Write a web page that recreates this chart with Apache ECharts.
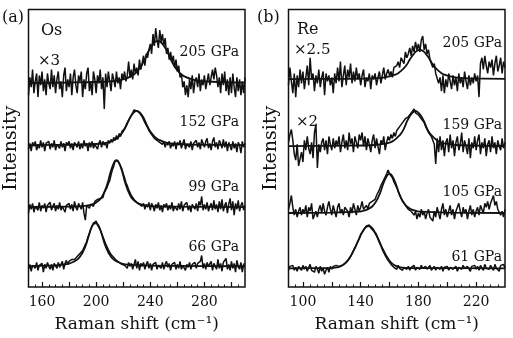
<!DOCTYPE html>
<html>
<head>
<meta charset="utf-8">
<script src="https://cdn.jsdelivr.net/npm/echarts@6/dist/echarts.min.js"></script>
<style>
  html, body { margin: 0; padding: 0; background: #fff; }
  #chart { width: 513px; height: 338px; }
</style>
</head>
<body>
<div id="chart"></div>
<script>
// Raman shift sampling grids (cm^-1)
const shiftOs = [150,151,152,153,154,155,156,157,158,159,160,161,162,163,164,165,166,167,168,169,170,171,172,173,174,175,176,177,178,179,180,181,182,183,184,185,186,187,188,189,190,191,192,193,194,195,196,197,198,199,200,201,202,203,204,205,206,207,208,209,210,211,212,213,214,215,216,217,218,219,220,221,222,223,224,225,226,227,228,229,230,231,232,233,234,235,236,237,238,239,240,241,242,243,244,245,246,247,248,249,250,251,252,253,254,255,256,257,258,259,260,261,262,263,264,265,266,267,268,269,270,271,272,273,274,275,276,277,278,279,280,281,282,283,284,285,286,287,288,289,290,291,292,293,294,295,296,297,298,299,300,301,302,303,304,305,306,307,308,309,310];
const shiftRe = [90,91,92,93,94,95,96,97,98,99,100,101,102,103,104,105,106,107,108,109,110,111,112,113,114,115,116,117,118,119,120,121,122,123,124,125,126,127,128,129,130,131,132,133,134,135,136,137,138,139,140,141,142,143,144,145,146,147,148,149,150,151,152,153,154,155,156,157,158,159,160,161,162,163,164,165,166,167,168,169,170,171,172,173,174,175,176,177,178,179,180,181,182,183,184,185,186,187,188,189,190,191,192,193,194,195,196,197,198,199,200,201,202,203,204,205,206,207,208,209,210,211,212,213,214,215,216,217,218,219,220,221,222,223,224,225,226,227,228,229,230,231,232,233,234,235,236,237,238,239,240];

// Os spectra: intensity above each trace's own baseline (arb. units)
const os205 = [
  -12,6,-4,14,-10,2,10,-14,8,-2,
  12,-8,4,-12,10,0,-6,14,-4,8,
  -10,4,12,-6,2,-14,8,16,-8,4,
  -4,10,-12,6,14,-2,-10,8,2,12,
  -14,4,-6,10,16,-8,2,-12,12,4,
  -10,8,0,14,-6,6,-26,10,-4,12,
  2,-8,10,4,-4,12,0,6,-6,10,
  4,12,2,8,22,6,14,4,20,10,
  16,8,24,14,20,28,18,30,26,34,
  40,30,50,38,56,44,36,54,42,50,
  38,46,30,36,24,32,22,28,16,24,
  12,18,6,10,-4,2,-12,-2,-14,4,
  -6,8,-10,2,6,-4,10,-8,4,-2,
  8,-6,2,10,-2,6,14,4,16,8,
  -4,6,-10,10,-2,12,-8,4,-12,6,
  -10,10,-4,-14,6,-8,4,-12,2,-10,
  6];
const os152 = [
  -4,2,-6,3,-1,4,-5,1,-3,5,
  -2,3,-6,2,0,4,-4,2,-2,5,
  -5,1,3,-3,4,-2,2,-6,3,0,
  4,-3,2,-5,3,1,-2,4,-4,2,
  -3,5,-1,2,-6,3,-2,4,-3,1,
  3,-4,2,5,-2,4,0,3,-3,5,
  2,6,3,8,5,10,6,12,9,14,
  13,17,18,23,24,28,30,33,36,37,
  35,37,33,32,29,27,23,22,18,15,
  14,11,10,7,8,5,6,3,5,1,
  4,-2,3,0,4,-3,2,-1,4,-4,
  3,0,5,-3,2,6,-4,1,3,-2,
  4,-5,2,0,5,-2,3,-4,6,8,
  -2,4,7,-3,2,-5,4,8,-2,3,
  -4,5,2,-3,6,-2,4,-6,3,1,
  -5,4,-3,2,-7,3,0,-8,4,-2,
  2];
const os99 = [
  -6,3,-2,4,-5,1,3,-3,5,-4,
  2,-1,4,-5,2,0,5,-3,1,4,
  -4,2,-2,5,-3,1,3,-5,2,0,
  4,-2,3,-4,6,0,-3,4,1,-2,
  5,-6,-13,2,4,-1,3,5,1,6,
  4,8,6,9,11,10,15,17,20,24,
  27,33,38,42,47,49,47,46,42,39,
  34,30,25,22,18,17,12,11,8,9,
  5,6,3,5,1,4,-2,3,0,5,
  -3,4,1,-4,3,-1,5,-3,2,-5,
  3,0,4,-3,2,-2,5,-4,1,3,
  -3,4,-2,6,-4,2,0,5,-3,2,
  -5,3,1,-2,4,-4,6,2,11,-3,
  3,-2,5,-4,1,4,-3,7,-2,3,
  -5,6,-2,8,-4,2,5,-6,3,9,
  -3,6,-8,4,-2,7,-4,2,5,-3,
  2];
const os66 = [
  -3,2,-5,1,3,-2,4,-4,1,-1,
  3,-6,2,-2,4,0,-3,2,-4,3,
  1,-2,4,-1,2,5,-3,3,6,2,
  5,3,7,6,7,8,10,11,13,14,
  16,19,22,25,30,33,38,40,44,43,
  46,42,41,37,35,30,28,23,21,17,
  16,12,13,9,10,6,7,4,5,2,
  4,1,3,-2,4,0,3,-3,2,7,
  -2,5,-4,3,0,4,-3,2,5,-2,
  3,-4,2,0,4,-3,1,3,-2,4,
  -3,2,5,-1,3,-4,2,0,4,-3,
  2,-2,5,-3,1,3,-4,2,-1,4,
  -3,2,0,4,-2,3,1,5,11,-2,
  3,-3,4,0,-2,5,-4,3,1,-3,
  7,-2,3,-5,4,2,8,-3,2,-4,
  5,-2,3,-6,6,0,-3,4,-6,2,
  3];

// Re spectra
const re205 = [
  -6,12,-2,-14,6,-18,4,-8,10,-4,
  8,-10,2,14,-6,22,0,6,-12,4,
  -4,10,-8,2,8,-16,6,-2,4,-6,
  2,-14,6,-4,12,-2,18,-8,4,14,
  -6,10,2,16,-4,8,-2,12,0,6,
  -6,4,10,-8,2,-2,6,-10,4,0,
  6,-6,2,8,-4,4,12,0,6,10,
  4,8,2,12,10,14,18,12,22,20,
  16,28,22,26,32,24,34,28,38,30,
  36,28,40,44,30,36,26,30,20,22,
  12,16,6,8,-4,2,-12,4,-14,0,
  -8,6,-2,-10,4,-6,2,-12,6,-4,
  2,-8,8,-2,-10,4,-6,2,-4,6,
  -2,4,-18,16,22,10,24,14,6,18,
  12,20,4,16,24,8,14,22,6,18,
  12];
const re159 = [
  4,12,17,6,-8,-14,2,-20,-22,-6,
  -16,6,-4,10,-2,-8,4,-12,14,22,
  -22,2,-6,4,8,-4,6,-8,10,2,
  -4,8,-2,6,0,10,-6,4,12,-2,
  6,-4,14,2,8,-6,10,4,-2,12,
  6,14,0,10,-4,8,2,-6,6,12,
  -2,8,0,-8,6,2,10,-4,4,10,
  6,12,8,14,10,16,14,20,18,24,
  22,28,26,30,32,34,36,38,34,36,
  32,34,28,30,24,20,22,14,16,10,
  12,2,-18,8,-6,10,-4,6,-10,4,
  8,-6,12,-2,6,-10,4,10,-4,2,
  14,-6,6,0,-8,8,-12,4,-2,10,
  -4,6,12,-8,4,-2,8,-10,2,6,
  -6,10,-2,4,-8,6,0,-4,8,-2,
  4];
const re105 = [
  4,10,18,6,-2,4,-4,2,6,-2,
  4,0,8,-4,6,2,10,-6,-8,2,
  -4,4,8,0,10,2,-2,6,12,4,
  -2,8,2,-4,6,10,0,4,-2,6,
  8,2,-4,6,0,10,4,-2,8,2,
  6,12,4,2,8,4,10,8,12,14,
  14,18,20,24,28,30,34,36,40,44,
  40,38,36,32,30,26,24,18,16,12,
  12,8,10,4,6,2,4,-2,2,-6,
  0,-4,4,-2,2,-6,0,4,-4,-2,
  -8,2,-4,6,0,-6,4,10,-2,4,
  -4,2,8,-2,4,-6,2,6,10,2,
  -4,6,0,4,-6,2,8,-2,4,-4,
  2,6,-2,8,4,0,10,6,12,4,
  10,14,18,8,12,4,6,-2,2,-4,
  4];
const re61 = [
  -2,2,0,3,-2,1,-3,2,0,-2,
  3,-1,2,-3,1,4,-2,0,-4,2,
  -1,-5,2,-3,0,-6,-2,1,-4,2,
  -1,2,0,3,1,2,2,3,3,5,
  6,8,10,12,15,17,21,23,27,30,
  34,36,39,40,43,42,44,41,41,38,
  36,33,31,26,23,19,17,13,11,8,
  6,4,4,1,2,-1,3,0,2,-2,
  1,3,-1,2,-2,1,0,3,-2,1,
  2,-1,3,0,-2,2,-1,1,3,-2,
  0,2,-2,1,3,-1,2,-3,1,0,
  2,-2,1,3,-1,0,2,-3,1,2,
  -1,3,0,-2,2,1,-3,2,0,3,
  -1,2,-2,3,1,-2,4,0,2,-1,
  3,1,-2,4,0,2,-3,3,1,4,
  0];

// Fitted peak profiles: [shift, intensity]
const osFit205 = [[150,0.3],[180,0.8],[200,1.3],[210,2],[215,2.4],[220,3.9],[225,6.5],[228,9],[230,11.6],[232,15],[234,19.4],[236,24.5],[238,31],[240,36],[242,40],[244,42.4],[245.5,43],[247,42.4],[249,40],[251,36],[253,31],[255,24.5],[257,19.4],[259,15],[261,11.6],[263,9],[266,6.5],[271,3.9],[276,2.4],[281,2],[291,1.3],[310,0.6]];
const osFit152 = [[150,0.2],[190,0.8],[200,1.3],[205,1.9],[210,3.5],[213,5.2],[215,6.7],[217,9],[219,12.2],[221,16.4],[223,22],[225,28],[227,32.2],[229,34.6],[230,35],[231,34.6],[233,32.2],[235,28],[237,22],[239,16.4],[241,12.2],[243,9],[245,6.7],[247,5.2],[250,3.5],[255,1.9],[260,1.3],[270,0.8],[310,0.2]];
const osFit99 = [[150,0.3],[180,0.8],[187,1],[193,1.8],[197,3],[199,4],[201,5.8],[203,8.2],[204,10],[205,12.5],[206,15.4],[207,18.7],[208,22.6],[209,27],[210,32.6],[211,37.4],[212,41.5],[213,44.9],[214,47.2],[215,48],[216,47.2],[217,44.9],[218,41.5],[219,37.4],[220,32.6],[221,27],[222,22.6],[223,18.7],[224,15.4],[225,12.5],[226,10],[227,8.2],[229,5.8],[231,4],[233,3],[237,1.8],[243,1],[260,0.6],[310,0.2]];
const osFit66 = [[150,0.3],[170,1],[175,1.7],[180,2.8],[183,4.4],[185,5.9],[187,8.1],[188,9.7],[189,11.9],[190,14.1],[191,16.9],[192,20.2],[193,24],[194,28.6],[195,33.4],[196,37.4],[197,40.8],[198,42.9],[199,43.8],[200,43.8],[201,42.9],[202,40.8],[203,37.4],[204,33.4],[205,28.6],[206,24],[207,20.2],[208,16.9],[209,14.1],[210,11.9],[211,9.7],[212,8.1],[214,5.9],[216,4.4],[219,2.8],[224,1.7],[235,0.9],[260,0.4],[310,0.1]];
const reFit205 = [[90,0.2],[130,0.6],[150,1],[154,1.5],[159,2.7],[162,3.9],[164,4.8],[166,6.3],[168,8.7],[170,11.4],[172,15],[174,20.1],[176,24.3],[178,27.9],[180,29.7],[181,30],[182,29.7],[184,27.9],[186,24.3],[188,20.1],[190,15],[192,11.4],[194,8.7],[196,6.3],[198,4.8],[200,3.9],[203,2.7],[208,1.5],[215,1],[240,0.4]];
const reFit159 = [[90,0.2],[130,0.6],[150,1.3],[156,2.5],[160,3.8],[162,5],[164,7],[166,9.7],[168,13],[170,18],[172,25],[174,30.6],[176,34.2],[178,36],[180,34.2],[182,30.6],[184,25],[186,18],[188,13],[190,9.7],[192,7],[194,5],[196,3.8],[200,2.5],[206,1.3],[240,0.3]];
const reFit105 = [[90,0.2],[120,0.6],[138,1.5],[142,2.5],[144,3.4],[146,4.8],[148,6.8],[150,10.4],[151,12.8],[152,15.6],[153,18.8],[154,22.5],[155,27.2],[156,31.2],[157,34.6],[158,37.4],[159,39.4],[160,40],[161,39.4],[162,37.4],[163,34.6],[164,31.2],[165,27.2],[166,22.5],[167,18.8],[168,15.6],[169,12.8],[170,10.4],[172,6.8],[174,4.8],[176,3.4],[178,2.5],[182,1.5],[200,0.6],[240,0.2]];
const reFit61 = [[90,0],[118,0.2],[120.5,0.3],[123.5,0.9],[125.5,1.7],[127.5,3],[129.5,5.2],[130.5,6.8],[131.5,8.7],[132.5,10.9],[133.5,13.4],[134.5,16.2],[135.5,19.1],[136.5,22],[137.5,25.5],[138.5,28.9],[139.5,32.3],[140.5,35.3],[141.5,37.5],[142.5,39.9],[143.5,41.6],[144.5,42.6],[145.5,43],[146.5,42.6],[147.5,41.6],[148.5,39.9],[149.5,37.5],[150.5,35.3],[151.5,32.3],[152.5,28.9],[153.5,25.5],[154.5,22],[155.5,19.1],[156.5,16.2],[157.5,13.4],[158.5,10.9],[159.5,8.7],[160.5,6.8],[161.5,5.2],[163.5,3],[165.5,1.7],[167.5,0.9],[170.5,0.3],[173,0.2],[240,0]];

// Pressure labels and vertical offsets of the stacked traces
const osPressures = ['205 GPa', '152 GPa', '99 GPa', '66 GPa'];
const rePressures = ['205 GPa', '159 GPa', '105 GPa', '61 GPa'];
const osOffsets = [207, 144, 81, 21];
const reOffsets = [211, 143, 75, 19];

// Axis ticks and tick labels
const osMajorTicks = [160,180,200,220,240,260,280,300];
const osMinorTicks = [155,160,165,170,175,180,185,190,195,200,205,210,215,220,225,230,235,240,245,250,255,260,265,270,275,280,285,290,295,300,305];
const osTickLabels = [160, 200, 240, 280];
const reMajorTicks = [100,120,140,160,180,200,220];
const reMinorTicks = [95,100,105,110,115,120,125,130,135,140,145,150,155,160,165,170,175,180,185,190,195,200,205,210,215,220,225,230,235];
const reTickLabels = [100, 140, 180, 220];

const FONT = 'DejaVu Serif';
const INK = '#111';

const panels = [
  { grid: 0, shift: shiftOs, sets: [os205, os152, os99, os66], fits: [osFit205, osFit152, osFit99, osFit66], offsets: osOffsets },
  { grid: 1, shift: shiftRe, sets: [re205, re159, re105, re61], fits: [reFit205, reFit159, reFit105, reFit61], offsets: reOffsets }
];

const series = [];
panels.forEach(p => {
  p.sets.forEach((vals, k) => {
    series.push({
      type: 'line', xAxisIndex: p.grid, yAxisIndex: p.grid,
      data: p.shift.map((x, i) => [x, p.offsets[k] + vals[i]]),
      showSymbol: false, silent: true,
      lineStyle: { color: INK, width: 1.5 }
    });
  });
  p.fits.forEach((fit, k) => {
    series.push({
      type: 'line', xAxisIndex: p.grid, yAxisIndex: p.grid,
      data: fit.map(([x, y]) => [x, p.offsets[k] + y]),
      showSymbol: false, silent: true, smooth: 0.3,
      lineStyle: { color: INK, width: 1.8 }
    });
  });
});

// Main axis: long ticks and labels
function xAxisMain(grid, min, max, ticks, labels) {
  return {
    type: 'value', gridIndex: grid, min: min, max: max,
    axisLine: { show: false },
    splitLine: { show: false },
    axisTick: { show: true, inside: true, length: 5, customValues: ticks, lineStyle: { color: INK, width: 1.2 } },
    axisLabel: { customValues: labels, color: INK, fontFamily: FONT, fontSize: 14, margin: 8 },
    name: 'Raman shift (cm\u207B\u00B9)', nameLocation: 'middle', nameGap: 29,
    nameTextStyle: { color: INK, fontFamily: FONT, fontSize: 17 }
  };
}
// Companion axis on the same grid: short minor ticks only
function xAxisMinor(grid, min, max, ticks) {
  return {
    type: 'value', gridIndex: grid, min: min, max: max, position: 'bottom',
    axisLine: { show: false }, splitLine: { show: false },
    axisTick: { show: true, inside: true, length: 2.5, customValues: ticks, lineStyle: { color: INK, width: 1 } },
    axisLabel: { show: false }
  };
}
function yAxisFor(grid) {
  return {
    type: 'value', gridIndex: grid, min: 0, max: 282,
    axisLine: { show: false }, axisTick: { show: false }, axisLabel: { show: false },
    splitLine: { show: false },
    name: 'Intensity', nameLocation: 'middle', nameGap: 8,
    nameTextStyle: { color: INK, fontFamily: FONT, fontSize: 19 }
  };
}

function text(x, y, s, align, size) {
  return { type: 'text', x: x, y: y, silent: true,
    style: { text: s, fill: INK, font: (size || 14) + 'px "' + FONT + '"', textAlign: align || 'left', textVerticalAlign: 'middle' } };
}

const osLabelY = [52, 122, 187, 247];
const reLabelY = [43, 125, 192, 257];
const graphics = [
  text(2, 18, '(a)', 'left', 16), text(41, 31, 'Os', 'left', 16), text(38, 61, '\u00D73', 'left', 15),
  text(257, 18, '(b)', 'left', 16), text(297, 30, 'Re', 'left', 16), text(294, 50, '\u00D72.5', 'left', 15),
  text(296, 122, '\u00D72', 'left', 15)
];
osPressures.forEach((s, k) => graphics.push(text(239, osLabelY[k], s, 'right', 14)));
rePressures.forEach((s, k) => graphics.push(text(502, reLabelY[k], s, 'right', 14)));

const chart = echarts.init(document.getElementById('chart'), null, { renderer: 'canvas' });
chart.setOption({
  animation: false,
  backgroundColor: '#fff',
  grid: [
    { left: 28.5, top: 9.5, width: 216.5, height: 281.5, show: true, borderColor: INK, borderWidth: 1.5, backgroundColor: 'transparent' },
    { left: 288.5, top: 9.5, width: 216.5, height: 281.5, show: true, borderColor: INK, borderWidth: 1.5, backgroundColor: 'transparent' }
  ],
  xAxis: [
    xAxisMain(0, 150, 310, osMajorTicks, osTickLabels),
    xAxisMain(1, 90, 240, reMajorTicks, reTickLabels),
    xAxisMinor(0, 150, 310, osMinorTicks),
    xAxisMinor(1, 90, 240, reMinorTicks)
  ],
  yAxis: [yAxisFor(0), yAxisFor(1)],
  series: series,
  graphic: graphics
});
</script>
</body>
</html>
